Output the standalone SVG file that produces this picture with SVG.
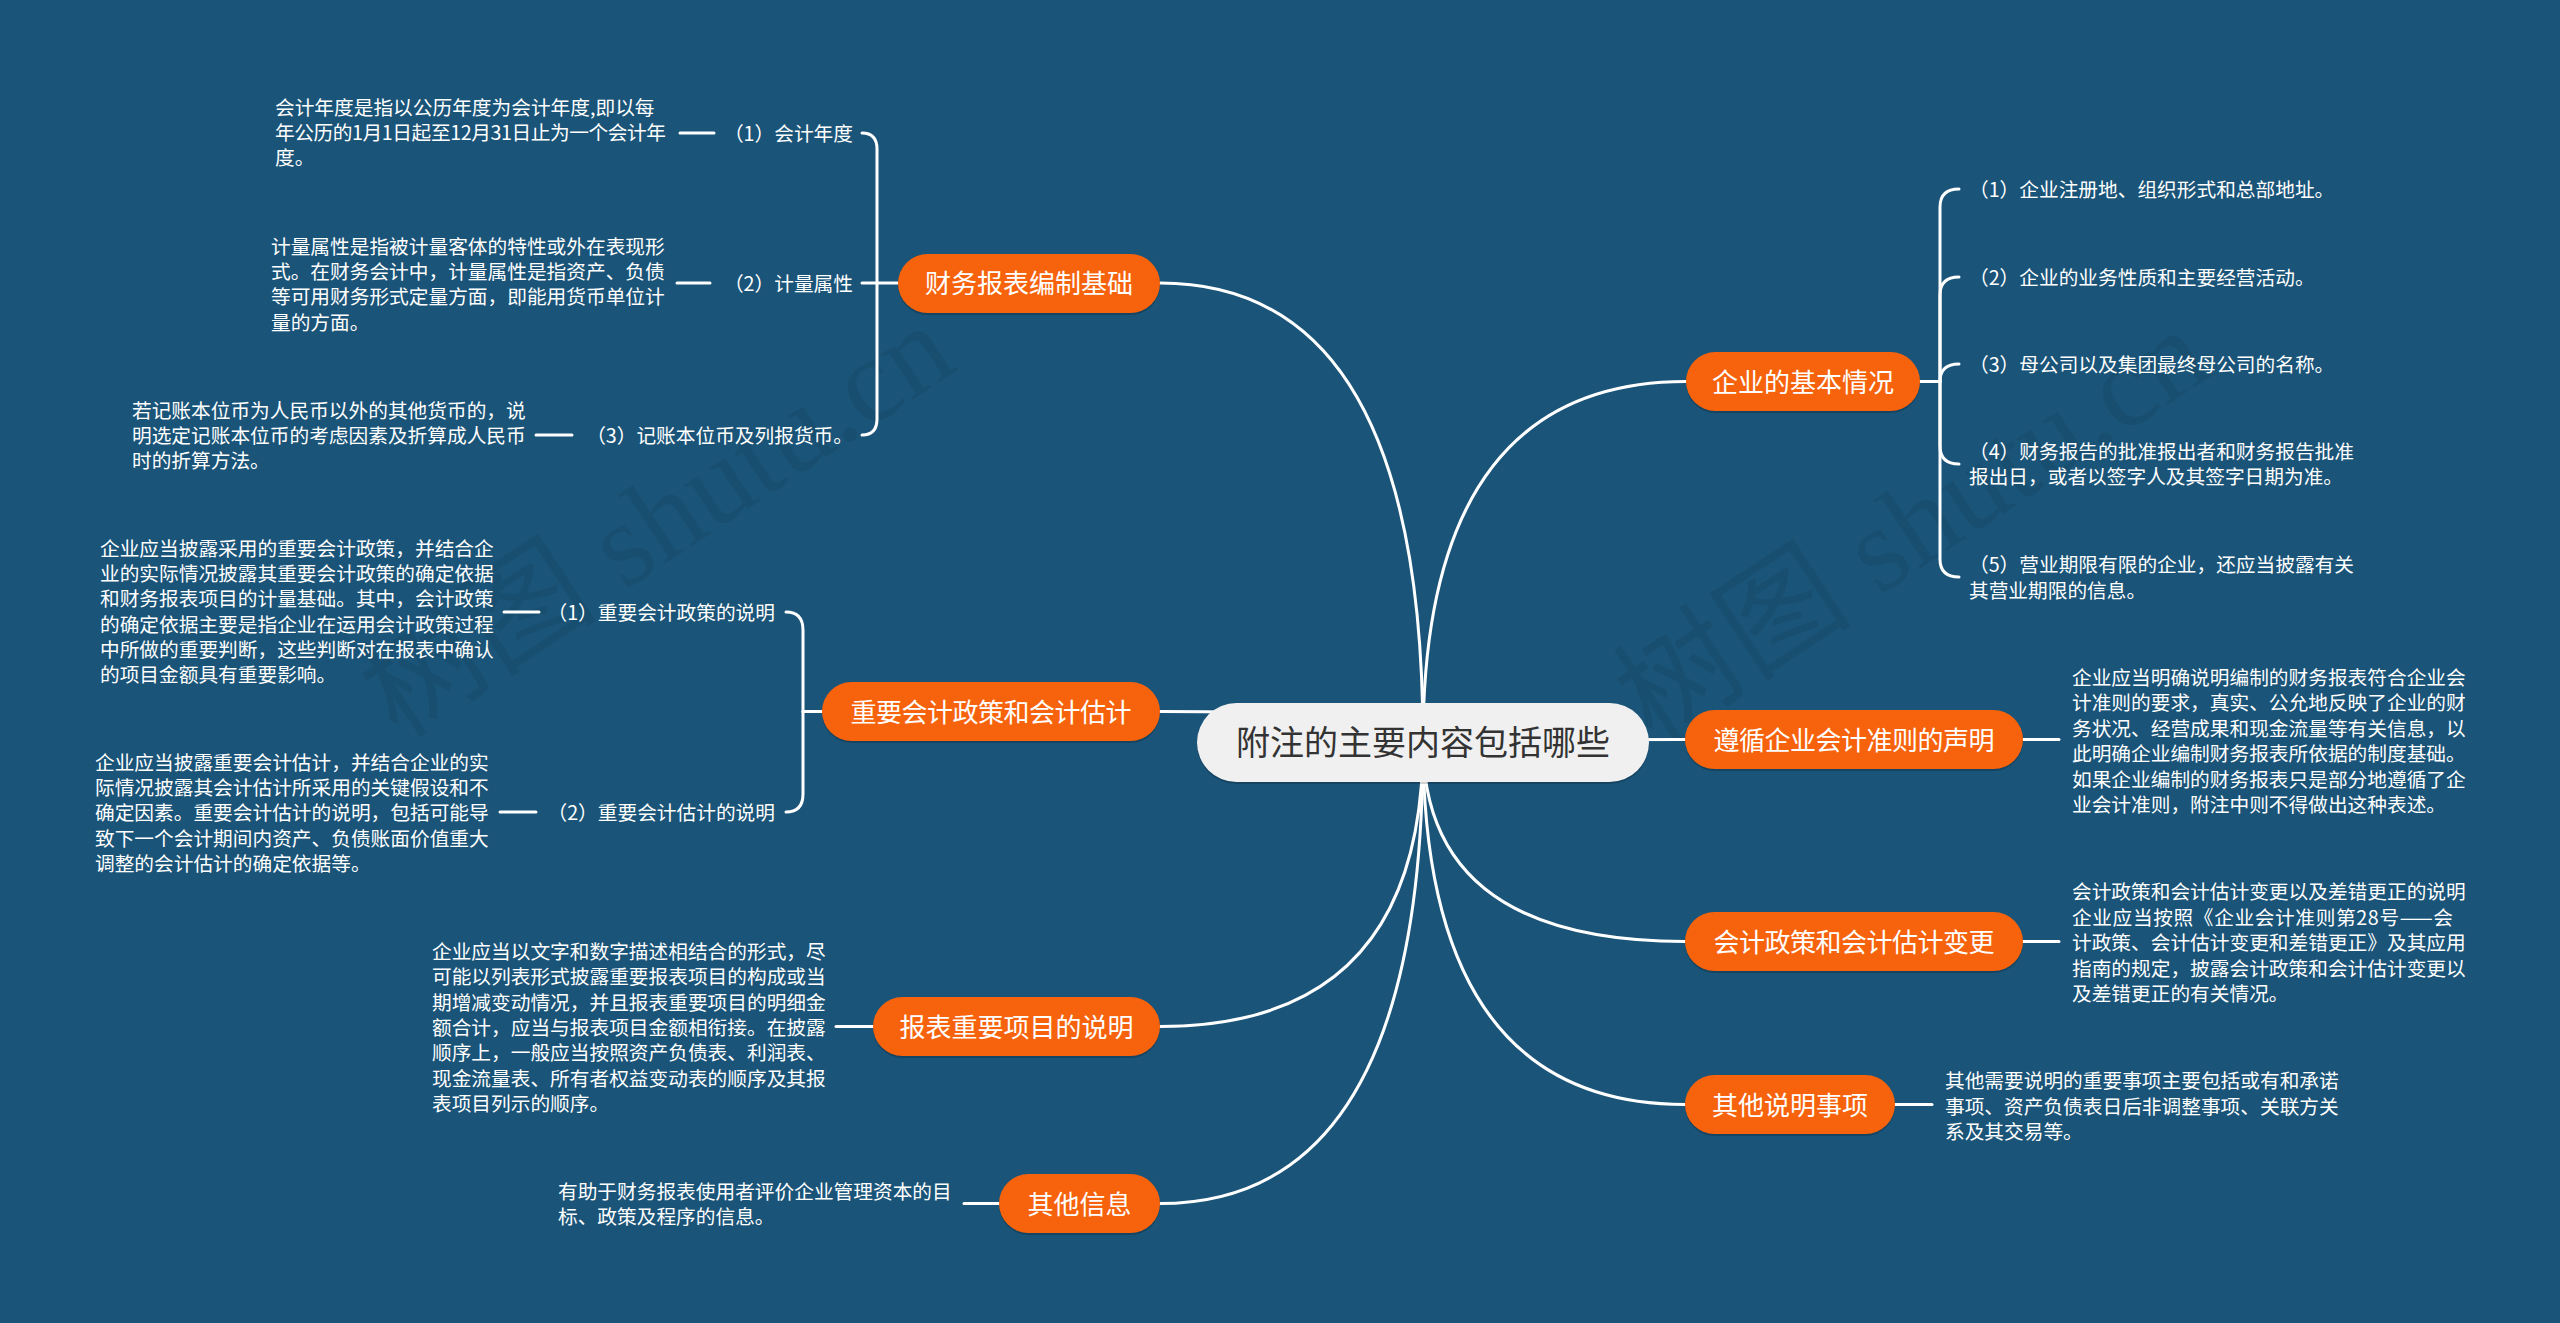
<svg xmlns="http://www.w3.org/2000/svg" width="2560" height="1323" viewBox="0 0 2560 1323">
<style>
.bg{fill:#1a5478}
.wm{font-family:"Liberation Serif","Noto Sans CJK SC",serif;font-size:120px;fill:#000;fill-opacity:0.06}
.c{fill:none;stroke:#ffffff;stroke-width:3;stroke-linecap:round}
.pill{fill:#f7630c}
.sh{fill:#000;fill-opacity:0.18}
.pt{font-family:"Noto Sans CJK SC","Noto Sans",sans-serif;font-size:26px;fill:#ffffff;text-anchor:middle}
.root{fill:#f0f0f0}
.rt{font-family:"Noto Sans CJK SC","Noto Sans",sans-serif;font-size:34px;fill:#333333;text-anchor:middle}
.t{font-family:"Noto Sans CJK SC","Noto Sans",sans-serif;font-size:19.7px;fill:#ffffff}
.te{font-family:"Noto Sans CJK SC","Noto Sans",sans-serif;font-size:19.7px;fill:#ffffff;text-anchor:end}
</style>
<rect class="bg" x="0" y="0" width="2560" height="1323"/>
<g id="watermark">
<text class="wm" x="660" y="560" text-anchor="middle" transform="rotate(-33.5 660 525)">树图 shutu.cn</text>
<text class="wm" x="1915" y="565" text-anchor="middle" transform="rotate(-33.5 1915 530)">树图 shutu.cn</text>
</g>
<g id="connectors">
<path class="c" d="M1423,742 Q1423,283 1160,283"/>
<path class="c" d="M1423,742 Q1423,711.5 1160,711.5"/>
<path class="c" d="M1423,742 Q1423,1026.5 1160,1026.5"/>
<path class="c" d="M1423,742 Q1423,1203.5 1160,1203.5"/>
<path class="c" d="M1423,742 Q1423,381.5 1686,381.5"/>
<path class="c" d="M1423,742 Q1423,739.5 1685,739.5"/>
<path class="c" d="M1423,742 Q1423,941.5 1685,941.5"/>
<path class="c" d="M1423,742 Q1423,1104.5 1685,1104.5"/>
<path class="c" d="M898,283 H862"/>
<path class="c" d="M877,283 V149 Q877,133 862,133"/>
<path class="c" d="M877,283 V419 Q877,435 862,435"/>
<path class="c" d="M822,711.5 H803"/>
<path class="c" d="M803,711.5 V630 Q803,612 786,612"/>
<path class="c" d="M803,711.5 V794 Q803,812 786,812"/>
<path class="c" d="M1920,381.5 H1940"/>
<path class="c" d="M1940,381.5 V207 Q1940,189 1959,189"/>
<path class="c" d="M1940,381.5 V295 Q1940,277 1959,277"/>
<path class="c" d="M1940,381.5 Q1940,364 1959,364"/>
<path class="c" d="M1940,381.5 V446 Q1940,464 1959,464"/>
<path class="c" d="M1940,381.5 V559 Q1940,577 1959,577"/>
<path class="c" d="M680,133 H714"/>
<path class="c" d="M677,283 H710"/>
<path class="c" d="M536,435 H572"/>
<path class="c" d="M504,612 H539"/>
<path class="c" d="M500,812 H536"/>
<path class="c" d="M836,1026.5 H873"/>
<path class="c" d="M964,1203.5 H999"/>
<path class="c" d="M2023,739.5 H2059"/>
<path class="c" d="M2023,941.5 H2059"/>
<path class="c" d="M1895,1104.5 H1932"/>
</g>
<g id="root">
<rect class="sh" x="1197" y="705" width="452" height="79" rx="39.5"/>
<rect class="root" x="1197" y="703" width="452" height="79" rx="39.5"/>
<text class="rt" x="1423" y="755">附注的主要内容包括哪些</text>
</g>
<g id="n-caiwu">
<rect class="sh" x="898" y="256" width="262" height="59" rx="29.5"/>
<rect class="pill" x="898" y="254" width="262" height="59" rx="29.5"/>
<text class="pt" x="1029" y="293">财务报表编制基础</text>
</g>
<g id="n-zhengce">
<rect class="sh" x="822" y="684" width="338" height="59" rx="29.5"/>
<rect class="pill" x="822" y="682" width="338" height="59" rx="29.5"/>
<text class="pt" x="991" y="721.5" textLength="281" lengthAdjust="spacing">重要会计政策和会计估计</text>
</g>
<g id="n-baobiao">
<rect class="sh" x="873" y="999" width="287" height="59" rx="29.5"/>
<rect class="pill" x="873" y="997" width="287" height="59" rx="29.5"/>
<text class="pt" x="1016.5" y="1036.5">报表重要项目的说明</text>
</g>
<g id="n-qita">
<rect class="sh" x="999" y="1176" width="161" height="59" rx="29.5"/>
<rect class="pill" x="999" y="1174" width="161" height="59" rx="29.5"/>
<text class="pt" x="1079.5" y="1213.5">其他信息</text>
</g>
<g id="n-jiben">
<rect class="sh" x="1686" y="354" width="234" height="59" rx="29.5"/>
<rect class="pill" x="1686" y="352" width="234" height="59" rx="29.5"/>
<text class="pt" x="1803" y="391.5">企业的基本情况</text>
</g>
<g id="n-zunxun">
<rect class="sh" x="1685" y="712" width="338" height="59" rx="29.5"/>
<rect class="pill" x="1685" y="710" width="338" height="59" rx="29.5"/>
<text class="pt" x="1854" y="749.5" textLength="281" lengthAdjust="spacing">遵循企业会计准则的声明</text>
</g>
<g id="n-biangeng">
<rect class="sh" x="1685" y="914" width="338" height="59" rx="29.5"/>
<rect class="pill" x="1685" y="912" width="338" height="59" rx="29.5"/>
<text class="pt" x="1854" y="951.5" textLength="281" lengthAdjust="spacing">会计政策和会计估计变更</text>
</g>
<g id="n-qitashuoming">
<rect class="sh" x="1685" y="1077" width="210" height="59" rx="29.5"/>
<rect class="pill" x="1685" y="1075" width="210" height="59" rx="29.5"/>
<text class="pt" x="1790" y="1114.5">其他说明事项</text>
</g>
<g id="l-niandu"><text class="te" x="853" y="140.5">（1）会计年度</text></g>
<g id="l-shuxing"><text class="te" x="853" y="290.5">（2）计量属性</text></g>
<g id="l-huobi"><text class="te" x="853" y="442.5">（3）记账本位币及列报货币。</text></g>
<g id="l-zhengce"><text class="te" x="775" y="619.5">（1）重要会计政策的说明</text></g>
<g id="l-guji"><text class="te" x="775" y="819.5">（2）重要会计估计的说明</text></g>
<g id="d-niandu"><text class="t"><tspan x="275" y="114.5">会计年度是指以公历年度为会计年度,即以每</tspan><tspan x="275" dy="25.4" textLength="391" lengthAdjust="spacing">年公历的1月1日起至12月31日止为一个会计年</tspan><tspan x="275" dy="25.4">度。</tspan></text></g>
<g id="d-shuxing"><text class="t"><tspan x="271" y="253.5">计量属性是指被计量客体的特性或外在表现形</tspan><tspan x="271" dy="25.4">式。在财务会计中，计量属性是指资产、负债</tspan><tspan x="271" dy="25.4">等可用财务形式定量方面，即能用货币单位计</tspan><tspan x="271" dy="25.4">量的方面。</tspan></text></g>
<g id="d-huobi"><text class="t"><tspan x="132" y="417.5">若记账本位币为人民币以外的其他货币的，说</tspan><tspan x="132" dy="25.4">明选定记账本位币的考虑因素及折算成人民币</tspan><tspan x="132" dy="25.4">时的折算方法。</tspan></text></g>
<g id="d-zhengce"><text class="t"><tspan x="100" y="556">企业应当披露采用的重要会计政策，并结合企</tspan><tspan x="100" dy="25.2">业的实际情况披露其重要会计政策的确定依据</tspan><tspan x="100" dy="25.2">和财务报表项目的计量基础。其中，会计政策</tspan><tspan x="100" dy="25.2">的确定依据主要是指企业在运用会计政策过程</tspan><tspan x="100" dy="25.2">中所做的重要判断，这些判断对在报表中确认</tspan><tspan x="100" dy="25.2">的项目金额具有重要影响。</tspan></text></g>
<g id="d-guji"><text class="t"><tspan x="95" y="770">企业应当披露重要会计估计，并结合企业的实</tspan><tspan x="95" dy="25.2">际情况披露其会计估计所采用的关键假设和不</tspan><tspan x="95" dy="25.2">确定因素。重要会计估计的说明，包括可能导</tspan><tspan x="95" dy="25.2">致下一个会计期间内资产、负债账面价值重大</tspan><tspan x="95" dy="25.2">调整的会计估计的确定依据等。</tspan></text></g>
<g id="d-baobiao"><text class="t"><tspan x="432" y="959">企业应当以文字和数字描述相结合的形式，尽</tspan><tspan x="432" dy="25.3">可能以列表形式披露重要报表项目的构成或当</tspan><tspan x="432" dy="25.3">期增减变动情况，并且报表重要项目的明细金</tspan><tspan x="432" dy="25.3">额合计，应当与报表项目金额相衔接。在披露</tspan><tspan x="432" dy="25.3">顺序上，一般应当按照资产负债表、利润表、</tspan><tspan x="432" dy="25.3">现金流量表、所有者权益变动表的顺序及其报</tspan><tspan x="432" dy="25.3">表项目列示的顺序。</tspan></text></g>
<g id="d-qita"><text class="t"><tspan x="558" y="1198.5">有助于财务报表使用者评价企业管理资本的目</tspan><tspan x="558" dy="25.3">标、政策及程序的信息。</tspan></text></g>
<g id="l-j1"><text class="t" x="1969" y="196.5">（1）企业注册地、组织形式和总部地址。</text></g>
<g id="l-j2"><text class="t" x="1969" y="284.5">（2）企业的业务性质和主要经营活动。</text></g>
<g id="l-j3"><text class="t" x="1969" y="371.5">（3）母公司以及集团最终母公司的名称。</text></g>
<g id="l-j4"><text class="t"><tspan x="1969" y="458.5">（4）财务报告的批准报出者和财务报告批准</tspan><tspan x="1969" dy="25.5">报出日，或者以签字人及其签字日期为准。</tspan></text></g>
<g id="l-j5"><text class="t"><tspan x="1969" y="572">（5）营业期限有限的企业，还应当披露有关</tspan><tspan x="1969" dy="25.5">其营业期限的信息。</tspan></text></g>
<g id="d-zunxun"><text class="t"><tspan x="2072" y="684.5">企业应当明确说明编制的财务报表符合企业会</tspan><tspan x="2072" dy="25.5">计准则的要求，真实、公允地反映了企业的财</tspan><tspan x="2072" dy="25.5">务状况、经营成果和现金流量等有关信息，以</tspan><tspan x="2072" dy="25.5">此明确企业编制财务报表所依据的制度基础。</tspan><tspan x="2072" dy="25.5">如果企业编制的财务报表只是部分地遵循了企</tspan><tspan x="2072" dy="25.5">业会计准则，附注中则不得做出这种表述。</tspan></text></g>
<g id="d-biangeng"><text class="t"><tspan x="2072" y="899">会计政策和会计估计变更以及差错更正的说明</tspan><tspan x="2072" dy="25.5" textLength="381" lengthAdjust="spacing">企业应当按照《企业会计准则第28号——会</tspan><tspan x="2072" dy="25.5">计政策、会计估计变更和差错更正》及其应用</tspan><tspan x="2072" dy="25.5">指南的规定，披露会计政策和会计估计变更以</tspan><tspan x="2072" dy="25.5">及差错更正的有关情况。</tspan></text></g>
<g id="d-qitashuoming"><text class="t"><tspan x="1945" y="1088">其他需要说明的重要事项主要包括或有和承诺</tspan><tspan x="1945" dy="25.5">事项、资产负债表日后非调整事项、关联方关</tspan><tspan x="1945" dy="25.5">系及其交易等。</tspan></text></g>
</svg>
